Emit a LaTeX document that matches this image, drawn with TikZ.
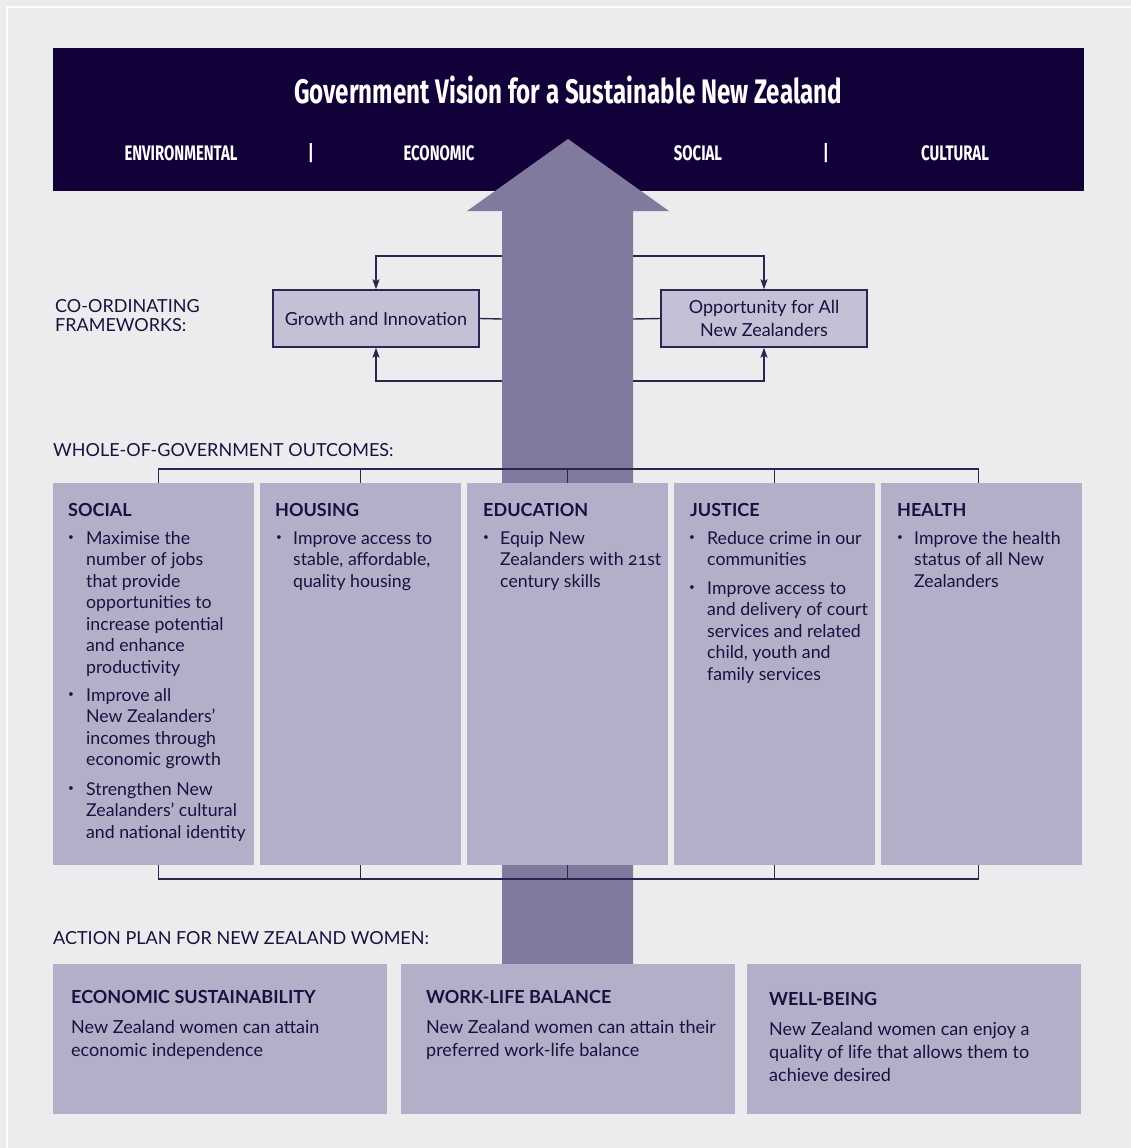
\documentclass[tikz,border=0pt]{standalone}
\usepackage{fontspec}
\setmainfont{Lato}[Numbers=OldStyle]
\newfontfamily\dinfont[FakeStretch=0.71]{Fira Sans}
\usetikzlibrary{arrows.meta}
\definecolor{bgc}{RGB}{236,236,238}
\definecolor{bannerc}{RGB}{18,0,56}
\definecolor{arrowc}{RGB}{127,122,158}
\definecolor{boxc}{RGB}{179,175,200}
\definecolor{fwc}{RGB}{196,193,214}
\definecolor{ink}{RGB}{27,16,64}
\definecolor{linec}{RGB}{46,36,82}
\newcommand{\fl}{\rule{0pt}{14pt}}
\tikzset{
  obox/.style={fill=boxc, inner sep=0pt, anchor=north west, minimum width=201pt, minimum height=382pt},
  abox/.style={fill=boxc, inner sep=0pt, anchor=north west, minimum width=334pt, minimum height=150pt},
  fwbox/.style={draw=linec, line width=1.4pt, fill=fwc, inner sep=0pt, minimum width=206pt, minimum height=57pt, align=center, text=ink, font=\fontsize{18}{23}\selectfont},
  conn/.style={draw=linec, line width=1.4pt, -{Stealth[length=10pt,width=7pt,inset=2pt]}},
  plainline/.style={draw=linec, line width=1.4pt},
  sublab/.style={font=\dinfont\bfseries\fontsize{21}{21}\selectfont, text=white, anchor=base},
  seclab/.style={font=\fontsize{18}{20}\selectfont, text=ink, anchor=base west, inner sep=0pt},
  head/.style={font=\bfseries\fontsize{18}{20}\selectfont, text=ink, anchor=base west, inner sep=0pt},
  body/.style={font=\fontsize{17.7}{21.5}\selectfont, text=ink, anchor=north west, inner sep=0pt, align=left},
  abody/.style={font=\fontsize{18}{23}\selectfont, text=ink, anchor=north west, inner sep=0pt, align=left},
  dot/.style={font=\fontsize{10}{10}\selectfont, text=ink, inner sep=0pt}
}
\begin{document}
\begin{tikzpicture}[x=1pt,y=-1pt]
\fill[bgc] (0,0) rectangle (1131,1148);
\useasboundingbox (0,0) rectangle (1131,1148);
\draw[white, line width=2pt] (7,1148) -- (7,7) -- (1131,7);

% banner
\node[fill=bannerc, inner sep=0pt, anchor=north west, minimum width=1031pt, minimum height=143pt] (banner) at (53,48) {};
\node[font=\dinfont\bfseries\fontsize{34}{34}\selectfont, text=white, anchor=base] (title) at (568,103) {Government Vision for a Sustainable New Zealand};
\node[sublab] (env) at (181,160) {ENVIRONMENTAL};
\node[sublab] (sep1) at (311,160) {|};
\node[sublab] (eco) at (439,160) {ECONOMIC};
\node[sublab] (soc) at (698,160) {SOCIAL};
\node[sublab] (sep2) at (826,160) {|};
\node[sublab] (cul) at (955,160) {CULTURAL};

% big arrow
\fill[arrowc] (502,964) -- (502,211) -- (467,211) -- (568,139) -- (669,211) -- (633,211) -- (633,964) -- cycle;

% frameworks
\node[seclab] (co1) at (55,312) {CO-ORDINATING};
\node[seclab] (co2) at (55,331) {FRAMEWORKS:};
\node[fwbox] (gi) at (376,318.5) {Growth and Innovation};
\node[fwbox] (oa) at (764,318.5) {Opportunity for All\\New Zealanders};
\coordinate (lt) at (502,256);
\coordinate (lm) at (502,319);
\coordinate (lb) at (502,381);
\coordinate (rt) at (633,256);
\coordinate (rm) at (633,319);
\coordinate (rb) at (633,381);
\draw[conn] (lt) -| (gi.north);
\draw[conn] (lb) -| (gi.south);
\draw[plainline] (gi.east) -- (lm);
\draw[conn] (rt) -| (oa.north);
\draw[conn] (rb) -| (oa.south);
\draw[plainline] (oa.west) -- (rm);

% outcomes
\node[seclab] (wog) at (53,456) {WHOLE-OF-GOVERNMENT OUTCOMES:};
\node[obox] (social) at (53,483) {};
\node[obox] (housing) at (260,483) {};
\node[obox] (education) at (467,483) {};
\node[obox] (justice) at (674,483) {};
\node[obox] (health) at (881,483) {};

\coordinate (tb) at (0,469);
\coordinate (bb) at (0,879);
\draw[plainline] ([xshift=4.5pt]social.north) -- ([xshift=4.5pt]social.north |- tb) -- ([xshift=-3.5pt]health.north |- tb) -- ([xshift=-3.5pt]health.north);
\draw[plainline] (housing.north) -- (housing.north |- tb);
\draw[plainline] (education.north) -- (education.north |- tb);
\draw[plainline] (justice.north) -- (justice.north |- tb);
\draw[plainline] ([xshift=4.5pt]social.south) -- ([xshift=4.5pt]social.south |- bb) -- ([xshift=-3.5pt]health.south |- bb) -- ([xshift=-3.5pt]health.south);
\draw[plainline] (housing.south) -- (housing.south |- bb);
\draw[plainline] (education.south) -- (education.south |- bb);
\draw[plainline] (justice.south) -- (justice.south |- bb);

% social
\node[head] (hsoc) at (68,516) {SOCIAL};
\node[dot] (d1) at (71,538) {•};
\node[body] (s1) at (86,530) {\fl Maximise the\\number of jobs\\that provide\\opportunities to\\increase potential\\and enhance\\productivity};
\node[dot] (d2) at (71,695) {•};
\node[body] (s2) at (86,687) {\fl Improve all\\New Zealanders’\\incomes through\\economic growth};
\node[dot] (d3) at (71,789) {•};
\node[body] (s3) at (86,781) {\fl Strengthen New\\Zealanders’ cultural\\and national identity};

% housing
\node[head] (hhou) at (275,516) {HOUSING};
\node[dot] (d4) at (279,538) {•};
\node[body] (h1) at (293,530) {\fl Improve access to\\stable, affordable,\\quality housing};

% education
\node[head] (hedu) at (483,516) {EDUCATION};
\node[dot] (d5) at (486,538) {•};
\node[body] (e1) at (500,530) {\fl Equip New\\Zealanders with 21st\\century skills};

% justice
\node[head] (hjus) at (690,516) {JUSTICE};
\node[dot] (d6) at (692,538) {•};
\node[body] (j1) at (707,530) {\fl Reduce crime in our\\communities};
\node[dot] (d7) at (692,588) {•};
\node[body] (j2) at (707,580) {\fl Improve access to\\and delivery of court\\services and related\\child, youth and\\family services};

% health
\node[head] (hhea) at (897,516) {HEALTH};
\node[dot] (d8) at (900,538) {•};
\node[body] (he1) at (914,530) {\fl Improve the health\\status of all New\\Zealanders};

% action plan
\node[seclab] (apl) at (53,944) {ACTION PLAN FOR NEW ZEALAND WOMEN:};
\node[abox] (ecs) at (53,964) {};
\node[abox] (wlb) at (401,964) {};
\node[abox] (wb) at (747,964) {};
\node[head] (hecs) at (71,1003) {ECONOMIC SUSTAINABILITY};
\node[abody] (tecs) at (71,1019) {\fl New Zealand women can attain\\economic independence};
\node[head] (hwlb) at (426,1003) {WORK-LIFE BALANCE};
\node[abody] (twlb) at (426,1019) {\fl New Zealand women can attain their\\preferred work-life balance};
\node[head] (hwb) at (769,1005) {WELL-BEING};
\node[abody] (twb) at (769,1021) {\fl New Zealand women can enjoy a\\quality of life that allows them to\\achieve desired};
\end{tikzpicture}
\end{document}
